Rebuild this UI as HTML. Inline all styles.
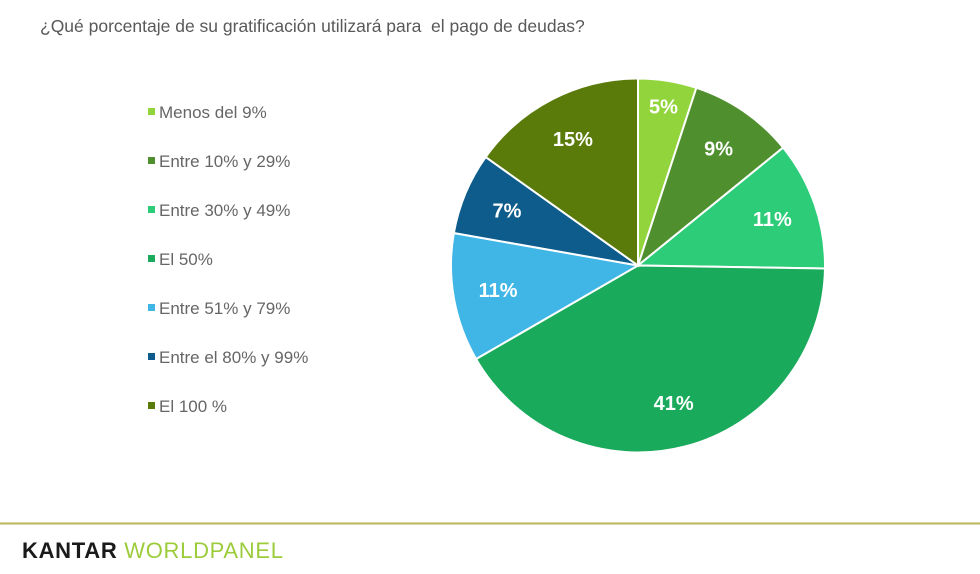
<!DOCTYPE html>
<html><head><meta charset="utf-8"><style>
body{margin:0;width:980px;height:574px;background:#fff;font-family:"Liberation Sans",sans-serif;overflow:hidden;position:relative}
.title{position:absolute;left:40px;top:16px;font-size:17.5px;color:#595959}
.leg{position:absolute;left:148px;font-size:17px;color:#666;height:20px;line-height:20px}
.leg span.sw{display:inline-block;width:7px;height:7px;margin-right:4px;vertical-align:middle;position:relative;top:-2px}
.rule{position:absolute;left:0;top:522px;width:980px;height:3px;background:linear-gradient(#e8ecc8,#b5ad55,#e8ecc8)}
.logo{position:absolute;left:22px;top:538px;font-size:22px;letter-spacing:0.7px}
</style></head><body>
<div class="title">¿Qué porcentaje de su gratificación utilizará para &nbsp;el pago de deudas?</div>
<div id="legend"></div>
<svg id="pie" width="980" height="574" style="position:absolute;left:0;top:0"></svg>
<div class="rule"></div>
<div class="logo"><span style="color:#1a1a1a;font-weight:bold">KANTAR</span> <span style="color:#9ccc3a">WORLDPANEL</span></div>
<script>
const categories=["Menos del 9%","Entre 10% y 29%","Entre 30% y 49%","El 50%","Entre 51% y 79%","Entre el 80% y 99%","El 100 %"];
const values=[5,9,11,41,11,7,15];
const colors=["#92d43c","#4f8f2e","#2dcc78","#1aaa5c","#3fb6e6","#0d5c8c","#5a7b0a"];
const cx=638,cy=265.5,r=187;
const svg=document.getElementById('pie');
const NS="http://www.w3.org/2000/svg";
const total=values.reduce((a,b)=>a+b,0);
let a0=0;
values.forEach((v,i)=>{
  const a1=a0+v/total*2*Math.PI;
  const p=(a)=>[cx+r*Math.sin(a),cy-r*Math.cos(a)];
  const [x0,y0]=p(a0),[x1,y1]=p(a1);
  const path=document.createElementNS(NS,'path');
  path.setAttribute('d',`M${cx},${cy}L${x0},${y0}A${r},${r} 0 ${a1-a0>Math.PI?1:0} 1 ${x1},${y1}Z`);
  path.setAttribute('fill',colors[i]);path.setAttribute('stroke','#fff');path.setAttribute('stroke-width','2');
  
  
  svg.appendChild(path);
  const m=(a0+a1)/2, lr=r*(v/total<0.07?0.86:0.76);
  const t=document.createElementNS(NS,'text');
  t.setAttribute('x',cx+lr*Math.sin(m));t.setAttribute('y',cy-lr*Math.cos(m)+7);
  t.setAttribute('text-anchor','middle');t.setAttribute('fill','#fff');t.setAttribute('font-size','20');
  t.setAttribute('font-weight','bold');t.setAttribute('font-family','Liberation Sans, sans-serif');
  t.textContent=v+'%';
  
  
  svg.appendChild(t);
  a0=a1;
});
const leg=document.getElementById('legend');
categories.forEach((c,i)=>{
  const d=document.createElement('div');d.className='leg';d.style.top=(103+i*49)+'px';
  d.innerHTML=`<span class="sw" style="background:${colors[i]}"></span>${c}`;
  
  
  leg.appendChild(d);
});
</script>
</body></html>
